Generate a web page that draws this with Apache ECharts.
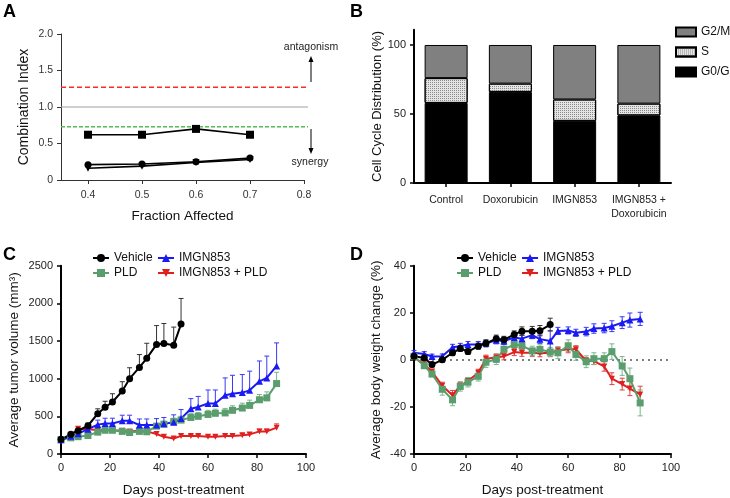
<!DOCTYPE html>
<html><head><meta charset="utf-8">
<script src="https://cdn.jsdelivr.net/npm/echarts@6/dist/echarts.min.js"></script>
<style>html,body{margin:0;padding:0;background:#fff}#c{width:730px;height:498px}</style>
</head><body><div id="c"></div>
<script>
// ---------- Panel A: combination index ----------
const faX = [0.4, 0.5, 0.6, 0.7];
const ciSquare = [0.62, 0.62, 0.70, 0.62];
const ciCircle = [0.21, 0.22, 0.25, 0.30];
const ciTriangle = [0.16, 0.19, 0.24, 0.28];
const ciAntagonismLine = 1.27;
const ciAdditiveLine = 1.0;
const ciSynergyLine = 0.73;
const faTicks = [0.4, 0.5, 0.6, 0.7, 0.8];

// ---------- Panel B: cell cycle ----------
const cellCats = ['Control', 'Doxorubicin', 'IMGN853', 'IMGN853 +\nDoxorubicin'];
const g0g1 = [58, 66, 45, 49];
const sPhase = [18, 6, 15.5, 8.5];
const g2m = [24, 28, 39.5, 42.5];
const cellTicks = [0, 50, 100];

// ---------- Panel C: tumor volume ----------
const vehDays = [0, 4, 7, 11, 15, 18, 21, 25, 28, 32, 35, 39, 42, 46, 49];
const vehVol = [195, 262, 310, 375, 535, 620, 690, 835, 1000, 1150, 1270, 1455, 1468, 1445, 1725];
const vehVolErr = [15, 20, 25, 35, 65, 80, 110, 125, 145, 170, 200, 250, 265, 240, 340];

const trtDays = [0, 4, 7, 11, 15, 18, 21, 25, 28, 32, 35, 39, 42, 46, 49, 53, 56, 60, 63, 67, 70, 74, 77, 81, 84, 88];
const imgnVol = [190, 235, 270, 330, 390, 405, 405, 440, 440, 385, 385, 385, 400, 420, 470, 600, 625, 670, 670, 780, 800, 815, 845, 965, 1010, 1170];
const imgnVolErr = [10, 15, 20, 25, 60, 70, 70, 75, 75, 80, 80, 85, 85, 100, 120, 135, 140, 180, 180, 230, 245, 240, 255, 270, 290, 305];
const pldVol = [190, 215, 230, 245, 290, 315, 315, 300, 285, 300, 295, 370, 395, 430, 450, 485, 500, 525, 540, 545, 580, 610, 645, 720, 745, 935];
const pldVolErr = [10, 15, 15, 20, 35, 40, 40, 35, 30, 30, 30, 35, 40, 45, 50, 50, 50, 55, 55, 60, 60, 65, 70, 70, 80, 150];
const comboVol = [190, 250, 335, 330, 320, 320, 315, 310, 300, 310, 300, 265, 228, 205, 240, 240, 240, 228, 228, 240, 240, 250, 260, 300, 300, 350];
const comboVolErr = [10, 15, 20, 20, 20, 20, 20, 20, 20, 20, 20, 30, 25, 20, 25, 20, 20, 20, 20, 25, 25, 25, 25, 30, 30, 50];

// ---------- Panel D: body weight ----------
const vehWtDays = [0, 4, 7, 11, 15, 18, 21, 25, 28, 32, 35, 39, 42, 46, 49, 53];
const vehWt = [1.5, 0.8, -2.0, 0, 3.0, 4.8, 3.5, 5.8, 7.0, 9.0, 8.5, 10.8, 12.2, 12.2, 12.4, 15.0];
const vehWtErr = [1, 1, 1, 1, 1.2, 1.2, 1.2, 1.3, 1.5, 1.5, 1.5, 1.5, 1.8, 2, 2.2, 2.7];
const imgnWt = [3.0, 2.5, 1.4, 1.5, 5.4, 5.8, 6.5, 6.5, 7.0, 8.3, 8.0, 9.5, 9.0, 10.5, 8.8, 8.0, 12.3, 12.5, 11.5, 12.0, 13.3, 13.5, 14.3, 15.8, 16.9, 17.4];
const imgnWtErr = [1, 1, 1, 1, 1.2, 1.2, 1.3, 1.3, 1.3, 1.5, 1.5, 1.5, 1.5, 1.5, 1.8, 4.3, 1.5, 1.5, 1.5, 1.8, 2, 2, 2.3, 2.5, 3, 2.8];
const pldWt = [1.5, -2.5, -6.0, -12.5, -17.0, -11.3, -9.5, -7.0, -1.0, 0.2, 4.5, 6.5, 6.0, 3.8, 4.4, 3.3, 3.0, 6.0, 2.3, -0.8, 0.5, 0.5, 3.5, -2.6, -8.0, -18.3];
const pldWtErr = [0.8, 1, 1.2, 2.5, 2.5, 2, 2, 2, 2.2, 2.2, 2, 2, 2, 2, 2, 2, 2.5, 2.5, 2.5, 2.5, 2.5, 2.5, 3.3, 4, 4.5, 5.5];
const comboWt = [1.0, -2.0, -5.0, -11.0, -15.0, -11.0, -9.0, -5.5, 0.5, 1.0, 1.5, 3.3, 3.0, 3.0, 2.8, 3.0, 4.0, 4.5, 4.5, -0.5, -0.5, -2.8, -8.0, -10.3, -12.2, -14.7];
const comboWtErr = [0.8, 1, 1, 1.5, 2, 1.5, 1.5, 1.5, 1.5, 1.5, 1.5, 1.5, 1.5, 1.5, 1.5, 1.5, 1.5, 1.5, 1.5, 1.5, 1.5, 2, 2.5, 2.5, 3, 3.5];

const FONT = 'Liberation Sans, Arial, Helvetica, sans-serif';
const C_BLACK = '#000000', C_BLUE = '#1a1af5', C_GREEN = '#5a9e6e', C_RED = '#e0201e';

function zip(xs, ys) { return xs.map((x, i) => [x, ys[i]]); }

function axisStyle(thick) {
  return {
    axisLine: { show: true, onZero: false, lineStyle: { color: thick ? '#000' : '#333', width: thick ? 2 : 1 } },
    axisTick: { show: true, inside: false, length: 4, lineStyle: { color: thick ? '#000' : '#333', width: thick ? 1.5 : 1 } },
    splitLine: { show: false },
  };
}

// horizontal reference lines of panel A, drawn across the x-axis extent
function refLineSeries(value, color, dash, width) {
  return {
    type: 'custom', xAxisIndex: 0, yAxisIndex: 0, silent: true, z: 1,
    data: [[value]],
    encode: { y: 0 },
    renderItem: function (params, api) {
      const v = api.value(0);
      const cs = params.coordSys;
      const y = api.coord([0.35, v])[1];
      return {
        type: 'line',
        shape: { x1: cs.x, y1: y, x2: cs.x + cs.width + 4, y2: y },
        style: { stroke: color, lineWidth: width, lineDash: dash }
      };
    }
  };
}

function errSeries(idx, days, vals, errs, color, both) {
  return {
    type: 'custom', xAxisIndex: idx, yAxisIndex: idx, silent: true, z: 1,
    encode: { x: 0, y: 1 },
    data: days.map((d, i) => [d, vals[i], errs[i]]),
    renderItem: function (params, api) {
      const x = api.value(0), y = api.value(1), e = api.value(2);
      const top = api.coord([x, y + e]);
      const bot = both ? api.coord([x, y - e]) : api.coord([x, y]);
      const w = 2.5;
      const st = { stroke: color, lineWidth: 1 };
      const ch = [
        { type: 'line', shape: { x1: top[0], y1: top[1], x2: bot[0], y2: bot[1] }, style: st },
        { type: 'line', shape: { x1: top[0] - w, y1: top[1], x2: top[0] + w, y2: top[1] }, style: st }
      ];
      if (both) ch.push({ type: 'line', shape: { x1: bot[0] - w, y1: bot[1], x2: bot[0] + w, y2: bot[1] }, style: st });
      return { type: 'group', children: ch };
    }
  };
}

function lineSeries(name, idx, days, vals, color, symbol, size, rotate) {
  return {
    type: 'line', name: name, xAxisIndex: idx, yAxisIndex: idx, z: 3,
    data: zip(days, vals),
    symbol: symbol, symbolSize: size, symbolRotate: rotate || 0, showAllSymbol: true,
    lineStyle: { color: color, width: 2 },
    itemStyle: { color: color, borderWidth: 0 },
    emphasis: { disabled: true },
    animation: false
  };
}

function legendItem(name, left, top) {
  return {
    data: [name], left: left, top: top, padding: 0, itemWidth: 16, itemHeight: 10, itemGap: 0,
    textStyle: { fontFamily: FONT, fontSize: 12, color: '#111' }, selectedMode: false
  };
}

const chart = echarts.init(document.getElementById('c'), null, { renderer: 'canvas' });

const labelA = { fontFamily: FONT, fontSize: 10.5, color: '#333' };
const labelK = { fontFamily: FONT, fontSize: 11, color: '#222', formatter: v => String(v) };
const nameSt = { fontFamily: FONT, fontSize: 13.5, color: '#111' };

const option = {
  animation: false,
  backgroundColor: '#ffffff',
  grid: [
    { left: 61, top: 34, width: 243, height: 146 },
    { left: 414, top: 29.8, width: 257, height: 153.2 },
    { left: 61, top: 265.7, width: 245, height: 190.3 },
    { left: 414, top: 265.7, width: 257, height: 189.3 }
  ],
  xAxis: [
    Object.assign({
      gridIndex: 0, type: 'value', min: 0.35, max: 0.8,
      axisLabel: { customValues: faTicks, formatter: v => v.toFixed(1), margin: 10, ...labelA },
      name: 'Fraction Affected', nameLocation: 'middle', nameGap: 29, nameTextStyle: nameSt
    }, axisStyle(false), { axisTick: { show: true, customValues: faTicks, length: 4, lineStyle: { color: '#333' } } }),
    Object.assign({
      gridIndex: 1, type: 'category', data: cellCats,
      axisLabel: { interval: 0, margin: 10, fontFamily: FONT, fontSize: 10.5, color: '#222', lineHeight: 14 }
    }, axisStyle(true), { axisTick: { show: true, alignWithLabel: true, length: 4, lineStyle: { color: '#000', width: 1.5 } } }),
    Object.assign({
      gridIndex: 2, type: 'value', min: 0, max: 100, interval: 20,
      axisLabel: { margin: 8, ...labelK },
      name: 'Days post-treatment', nameLocation: 'middle', nameGap: 29, nameTextStyle: nameSt
    }, axisStyle(true)),
    Object.assign({
      gridIndex: 3, type: 'value', min: 0, max: 100, interval: 20,
      axisLabel: { margin: 8, ...labelK },
      name: 'Days post-treatment', nameLocation: 'middle', nameGap: 29, nameTextStyle: nameSt
    }, axisStyle(true))
  ],
  yAxis: [
    Object.assign({
      gridIndex: 0, type: 'value', min: 0, max: 2, interval: 0.5,
      axisLabel: { formatter: v => v === 0 ? '0' : v.toFixed(1), margin: 8, ...labelA },
      name: 'Combination Index', nameLocation: 'middle', nameGap: 30, nameTextStyle: { ...nameSt, fontSize: 14 }
    }, axisStyle(false)),
    Object.assign({
      gridIndex: 1, type: 'value', min: 0, max: 111,
      axisLabel: { customValues: cellTicks, margin: 8, ...labelK },
      name: 'Cell Cycle Distribution (%)', nameLocation: 'middle', nameGap: 30, nameTextStyle: { ...nameSt, fontSize: 13 }
    }, axisStyle(true), { axisTick: { show: true, customValues: cellTicks, length: 4, lineStyle: { color: '#000', width: 1.5 } } }),
    Object.assign({
      gridIndex: 2, type: 'value', min: 0, max: 2500, interval: 500,
      axisLabel: { margin: 8, ...labelK },
      name: 'Average tumor volume (mm³)', nameLocation: 'middle', nameGap: 40, nameTextStyle: nameSt
    }, axisStyle(true)),
    Object.assign({
      gridIndex: 3, type: 'value', min: -40, max: 40, interval: 20,
      axisLabel: { margin: 8, ...labelK },
      name: 'Average body weight change (%)', nameLocation: 'middle', nameGap: 31, nameTextStyle: nameSt
    }, axisStyle(true))
  ],
  legend: [
    {
      data: ['G2/M', 'S', 'G0/G1'], orient: 'vertical', left: 675, top: 26, padding: 0,
      itemWidth: 20, itemHeight: 9, itemGap: 8, selectedMode: false, icon: 'rect',
      textStyle: { fontFamily: FONT, fontSize: 12, color: '#111' }
    },
    legendItem('Vehicle', 92, 252),
    legendItem('IMGN853', 157, 252),
    legendItem('PLD', 92, 267),
    legendItem('IMGN853 + PLD', 157, 267),
    legendItem('Vehicle ', 456, 252),
    legendItem('IMGN853 ', 521, 252),
    legendItem('PLD ', 456, 267),
    legendItem('IMGN853 + PLD ', 521, 267)
  ],
  series: [
    // Panel A
    refLineSeries(ciAntagonismLine, 'rgb(255,40,40)', [5, 3], 1.5),
    refLineSeries(ciAdditiveLine, 'rgb(160,160,160)', null, 1.2),
    refLineSeries(ciSynergyLine, 'rgb(80,190,80)', [4, 2], 1.5),
    {
      type: 'line', name: 'ci1', xAxisIndex: 0, yAxisIndex: 0, data: zip(faX, ciSquare),
      symbol: 'rect', symbolSize: 8, lineStyle: { color: '#000', width: 1.6 }, itemStyle: { color: '#000' }, z: 3
    },
    {
      type: 'line', name: 'ci2', xAxisIndex: 0, yAxisIndex: 0, data: zip(faX, ciCircle),
      symbol: 'circle', symbolSize: 7, lineStyle: { color: '#000', width: 1.6 }, itemStyle: { color: '#000' }, z: 3
    },
    {
      type: 'line', name: 'ci3', xAxisIndex: 0, yAxisIndex: 0, data: zip(faX, ciTriangle),
      symbol: 'triangle', symbolRotate: 180, symbolSize: 7, lineStyle: { color: '#000', width: 1.6 }, itemStyle: { color: '#000' }, z: 3
    },
    // Panel B
    {
      type: 'bar', name: 'G0/G1', xAxisIndex: 1, yAxisIndex: 1, stack: 'cc', data: g0g1, barWidth: 43,
      itemStyle: { color: '#000000', borderColor: '#000', borderWidth: 1 }
    },
    {
      type: 'bar', name: 'S', xAxisIndex: 1, yAxisIndex: 1, stack: 'cc', data: sPhase, barWidth: 43,
      itemStyle: {
        color: '#e4e4e4', borderColor: '#000', borderWidth: 1,
        decal: { symbol: 'rect', symbolSize: 1, dashArrayX: [1, 1], dashArrayY: [1, 1], color: '#8a8a8a' }
      }
    },
    {
      type: 'bar', name: 'G2/M', xAxisIndex: 1, yAxisIndex: 1, stack: 'cc', data: g2m, barWidth: 43,
      itemStyle: { color: '#808080', borderColor: '#000', borderWidth: 1 }
    },
    // Panel C
    errSeries(2, vehDays, vehVol, vehVolErr, '#333', false),
    errSeries(2, trtDays, imgnVol, imgnVolErr, '#3a3af5', false),
    errSeries(2, trtDays, pldVol, pldVolErr, '#7ab58a', false),
    errSeries(2, trtDays, comboVol, comboVolErr, '#e04040', false),
    lineSeries('IMGN853 + PLD', 2, trtDays, comboVol, C_RED, 'triangle', 6, 180),
    lineSeries('PLD', 2, trtDays, pldVol, C_GREEN, 'rect', 7),
    lineSeries('IMGN853', 2, trtDays, imgnVol, C_BLUE, 'triangle', 7),
    lineSeries('Vehicle', 2, vehDays, vehVol, C_BLACK, 'circle', 7),
    // Panel D
    errSeries(3, trtDays, comboWt, comboWtErr, '#e04040', true),
    errSeries(3, trtDays, pldWt, pldWtErr, '#7ab58a', true),
    errSeries(3, trtDays, imgnWt, imgnWtErr, '#3a3af5', true),
    errSeries(3, vehWtDays, vehWt, vehWtErr, '#333', true),
    Object.assign(lineSeries('IMGN853 + PLD ', 3, trtDays, comboWt, C_RED, 'triangle', 6, 180), {
      markLine: {
        silent: true, symbol: 'none', label: { show: false }, animation: false, z: 0,
        lineStyle: { color: '#555', width: 1.5, type: [2, 4] },
        data: [{ yAxis: 0 }]
      }
    }),
    lineSeries('PLD ', 3, trtDays, pldWt, C_GREEN, 'rect', 7),
    lineSeries('IMGN853 ', 3, trtDays, imgnWt, C_BLUE, 'triangle', 7),
    lineSeries('Vehicle ', 3, vehWtDays, vehWt, C_BLACK, 'circle', 7)
  ],
  graphic: [
    { type: 'text', left: 3, top: 3, style: { text: 'A', font: 'bold 18px ' + FONT, fill: '#000' } },
    { type: 'text', left: 350, top: 3, style: { text: 'B', font: 'bold 18px ' + FONT, fill: '#000' } },
    { type: 'text', left: 3, top: 246, style: { text: 'C', font: 'bold 18px ' + FONT, fill: '#000' } },
    { type: 'text', left: 350, top: 246, style: { text: 'D', font: 'bold 18px ' + FONT, fill: '#000' } },
    { type: 'text', x: 311, y: 47, style: { text: 'antagonism', font: '10.5px ' + FONT, fill: '#222', align: 'center', verticalAlign: 'middle' } },
    { type: 'text', x: 310, y: 162, style: { text: 'synergy', font: '10.5px ' + FONT, fill: '#222', align: 'center', verticalAlign: 'middle' } },
    { type: 'line', shape: { x1: 311, y1: 82, x2: 311, y2: 61 }, style: { stroke: '#000', lineWidth: 1 } },
    { type: 'polygon', shape: { points: [[308.5, 62], [313.5, 62], [311, 56]] }, style: { fill: '#000' } },
    { type: 'line', shape: { x1: 311, y1: 129, x2: 311, y2: 149 }, style: { stroke: '#000', lineWidth: 1 } },
    { type: 'polygon', shape: { points: [[308.5, 148], [313.5, 148], [311, 154]] }, style: { fill: '#000' } }
  ]
};
chart.setOption(option);
</script></body></html>
